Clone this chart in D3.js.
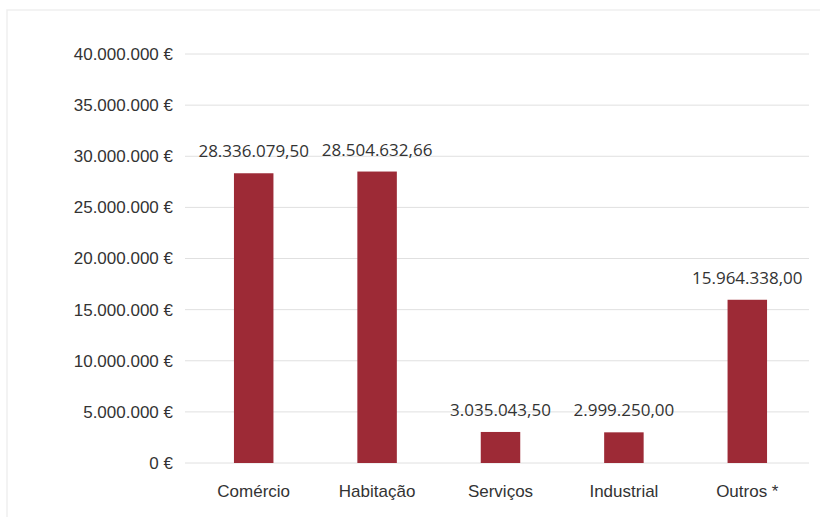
<!DOCTYPE html>
<html>
<head>
<meta charset="utf-8">
<script src="https://cdn.jsdelivr.net/npm/d3@7"></script>
<style>
  html, body { margin: 0; padding: 0; background: #fff; }
  svg { display: block; font-family: "Open Sans", "Noto Sans", sans-serif; }
</style>
</head>
<body>
<svg id="chart" width="820" height="517"></svg>
<script>
// Investment by sector (EUR)
const categories = ["Comércio", "Habitação", "Serviços", "Industrial", "Outros *"];
const values = [28336079.50, 28504632.66, 3035043.50, 2999250.00, 15964338.00];
const yTicks = [0, 5000000, 10000000, 15000000, 20000000, 25000000, 30000000, 35000000, 40000000];

const pt = d3.formatLocale({ decimal: ",", thousands: ".", grouping: [3], currency: ["", " €"] });
const fmtTick = v => pt.format(",")(v) + " €";
const fmtVal = pt.format(",.2f");

const svg = d3.select("#chart");
const plot = { left: 192, right: 809, top: 54, bottom: 463 };
const textColor = "#333";
const fontSize = 17;

// faint outer frame
svg.append("path")
  .attr("d", "M7,517 V10 H820")
  .attr("fill", "none")
  .attr("stroke", "#efefef")
  .attr("stroke-width", 1.5);

const x = d3.scaleBand().domain(categories).range([plot.left, plot.right])
  .paddingInner(0.68).paddingOuter(0.34);
const y = d3.scaleLinear().domain([0, 40000000]).range([plot.bottom, plot.top]);

// gridlines
svg.append("g")
  .selectAll("line")
  .data(yTicks)
  .join("line")
  .attr("x1", 185).attr("x2", plot.right)
  .attr("y1", d => y(d)).attr("y2", d => y(d))
  .attr("stroke", "#e0e0e0").attr("stroke-width", 1);

// y axis labels
const yAxis = svg.append("g")
  .attr("transform", `translate(${plot.left - 19},0)`)
  .call(d3.axisLeft(y).tickValues(yTicks).tickFormat(fmtTick).tickSize(0).tickPadding(0));
yAxis.select(".domain").remove();
yAxis.selectAll("text").attr("font-size", fontSize).attr("fill", textColor).style("font-family", "inherit");

// x axis labels
const xAxis = svg.append("g")
  .attr("transform", `translate(0,${plot.bottom})`)
  .call(d3.axisBottom(x).tickSize(0).tickPadding(22));
xAxis.select(".domain").remove();
xAxis.selectAll("text").attr("font-size", fontSize).attr("fill", textColor).style("font-family", "inherit");

// bars
svg.append("g")
  .selectAll("rect")
  .data(values)
  .join("rect")
  .attr("x", (d, i) => x(categories[i]))
  .attr("width", x.bandwidth())
  .attr("y", d => y(d))
  .attr("height", d => y(0) - y(d))
  .attr("fill", "#9d2a36");

// value labels
svg.append("g")
  .selectAll("text")
  .data(values)
  .join("text")
  .attr("x", (d, i) => x(categories[i]) + x.bandwidth() / 2)
  .attr("y", d => y(d) - 16)
  .attr("text-anchor", "middle")
  .attr("font-size", fontSize)
  .attr("fill", textColor)
  .text(d => fmtVal(d));
</script>
</body>
</html>
